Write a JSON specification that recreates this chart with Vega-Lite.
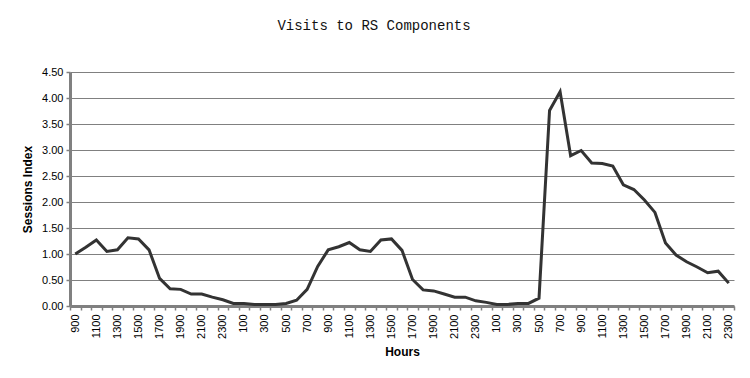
{
  "$schema": "https://vega.github.io/schema/vega-lite/v6.json",
  "width": 664,
  "height": 234,
  "autosize": {"type": "none"},
  "padding": {"left": 70, "top": 72, "right": 16, "bottom": 72},
  "background": "white",
  "title": {
    "text": "Visits to RS Components",
    "font": "Liberation Mono",
    "fontSize": 14,
    "fontWeight": "normal",
    "color": "#111111",
    "anchor": "middle",
    "frame": "group",
    "dx": -28,
    "offset": 33
  },
  "config": {
    "view": {"stroke": null},
    "axis": {
      "labelFont": "Arial",
      "labelFontSize": 11,
      "labelColor": "#000000",
      "titleFont": "Arial",
      "titleFontSize": 12,
      "titleFontWeight": "bold",
      "titleColor": "#000000",
      "domainColor": "#808080",
      "domainWidth": 3,
      "tickColor": "#808080",
      "tickWidth": 1.5,
      "tickSize": 4,
      "gridColor": "#808080",
      "gridWidth": 1
    }
  },
  "data": {
    "values": [
      {"i": 0, "hour": "900", "v": 1.00},
      {"i": 1, "hour": "1000", "v": 1.13},
      {"i": 2, "hour": "1100", "v": 1.27},
      {"i": 3, "hour": "1200", "v": 1.05},
      {"i": 4, "hour": "1300", "v": 1.08},
      {"i": 5, "hour": "1400", "v": 1.31},
      {"i": 6, "hour": "1500", "v": 1.29},
      {"i": 7, "hour": "1600", "v": 1.08},
      {"i": 8, "hour": "1700", "v": 0.53},
      {"i": 9, "hour": "1800", "v": 0.33},
      {"i": 10, "hour": "1900", "v": 0.32},
      {"i": 11, "hour": "2000", "v": 0.23},
      {"i": 12, "hour": "2100", "v": 0.23},
      {"i": 13, "hour": "2200", "v": 0.17},
      {"i": 14, "hour": "2300", "v": 0.12},
      {"i": 15, "hour": "0", "v": 0.05},
      {"i": 16, "hour": "100", "v": 0.05},
      {"i": 17, "hour": "200", "v": 0.03},
      {"i": 18, "hour": "300", "v": 0.03},
      {"i": 19, "hour": "400", "v": 0.03},
      {"i": 20, "hour": "500", "v": 0.05},
      {"i": 21, "hour": "600", "v": 0.11},
      {"i": 22, "hour": "700", "v": 0.32},
      {"i": 23, "hour": "800", "v": 0.76},
      {"i": 24, "hour": "900", "v": 1.08},
      {"i": 25, "hour": "1000", "v": 1.14},
      {"i": 26, "hour": "1100", "v": 1.22},
      {"i": 27, "hour": "1200", "v": 1.08},
      {"i": 28, "hour": "1300", "v": 1.05},
      {"i": 29, "hour": "1400", "v": 1.27},
      {"i": 30, "hour": "1500", "v": 1.29},
      {"i": 31, "hour": "1600", "v": 1.07},
      {"i": 32, "hour": "1700", "v": 0.51},
      {"i": 33, "hour": "1800", "v": 0.31},
      {"i": 34, "hour": "1900", "v": 0.29},
      {"i": 35, "hour": "2000", "v": 0.23},
      {"i": 36, "hour": "2100", "v": 0.17},
      {"i": 37, "hour": "2200", "v": 0.17},
      {"i": 38, "hour": "2300", "v": 0.10},
      {"i": 39, "hour": "0", "v": 0.07},
      {"i": 40, "hour": "100", "v": 0.03},
      {"i": 41, "hour": "200", "v": 0.03},
      {"i": 42, "hour": "300", "v": 0.05},
      {"i": 43, "hour": "400", "v": 0.05},
      {"i": 44, "hour": "500", "v": 0.15},
      {"i": 45, "hour": "600", "v": 3.76},
      {"i": 46, "hour": "700", "v": 4.12},
      {"i": 47, "hour": "800", "v": 2.89},
      {"i": 48, "hour": "900", "v": 2.99},
      {"i": 49, "hour": "1000", "v": 2.75},
      {"i": 50, "hour": "1100", "v": 2.74},
      {"i": 51, "hour": "1200", "v": 2.69},
      {"i": 52, "hour": "1300", "v": 2.33},
      {"i": 53, "hour": "1400", "v": 2.24},
      {"i": 54, "hour": "1500", "v": 2.04},
      {"i": 55, "hour": "1600", "v": 1.80},
      {"i": 56, "hour": "1700", "v": 1.21},
      {"i": 57, "hour": "1800", "v": 0.98},
      {"i": 58, "hour": "1900", "v": 0.85},
      {"i": 59, "hour": "2000", "v": 0.75},
      {"i": 60, "hour": "2100", "v": 0.64},
      {"i": 61, "hour": "2200", "v": 0.67},
      {"i": 62, "hour": "2300", "v": 0.44}
    ]
  },
  "mark": {"type": "line", "color": "#333333", "strokeWidth": 3, "strokeJoin": "miter"},
  "encoding": {
    "x": {
      "field": "i",
      "type": "ordinal",
      "sort": null,
      "scale": {"paddingInner": 0, "paddingOuter": 0},
      "axis": {
        "title": "Hours",
        "labelAngle": -90,
        "labelOverlap": false,
        "labelPadding": 4,
        "labelExpr": "datum.value % 2 == 0 ? '' + ((datum.value + 9) % 24 * 100) : ''",
        "tickBand": "extent",
        "titlePadding": 8,
        "grid": false
      }
    },
    "y": {
      "field": "v",
      "type": "quantitative",
      "scale": {"domain": [0, 4.5], "nice": false},
      "axis": {
        "title": "Sessions Index",
        "values": [0, 0.5, 1, 1.5, 2, 2.5, 3, 3.5, 4, 4.5],
        "format": ".2f",
        "labelPadding": 3,
        "titlePadding": 7,
        "grid": true
      }
    }
  }
}
